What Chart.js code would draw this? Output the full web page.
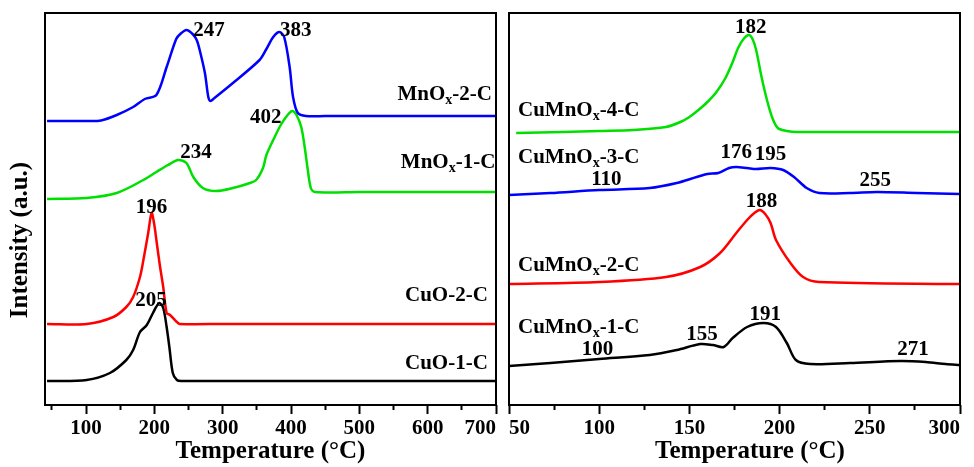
<!DOCTYPE html>
<html>
<head>
<meta charset="utf-8">
<script src="https://cdn.jsdelivr.net/npm/chart.js@4.4.1/dist/chart.umd.min.js"></script>
<style>
  html, body { margin: 0; padding: 0; background: #fff; overflow: hidden; }
  #left { position: absolute; left: 0; top: 0; }
  #right { position: absolute; left: 503px; top: 0; }
</style>
</head>
<body>
<canvas id="left" width="503" height="467"></canvas>
<canvas id="right" width="471" height="467"></canvas>
<script>
// left panel: single oxides
const mnox2T = [43, 100, 122, 145, 169, 186, 203, 218, 232, 238, 247, 256, 262, 266, 274, 279, 282, 288, 315, 354, 364, 374, 383, 390, 398, 403, 410, 422, 450, 700];
const mnox2I = [284, 284, 284.5, 290, 298, 306, 310, 338, 366, 371, 375, 371, 365, 356, 332, 308, 304, 307, 322, 345, 356, 368, 373, 368, 338, 308, 292, 289, 289, 289];

const mnox1T = [43, 101, 145, 184, 203, 220, 235, 247, 257, 271, 290, 315, 340, 349, 359, 364, 374, 385, 395, 402, 408, 415, 420, 424, 429, 435, 500, 700];
const mnox1I = [206, 207, 212, 225, 233, 240, 245, 242, 228, 217, 214, 217, 222, 225, 237, 250, 265, 280, 290, 294, 290, 278, 258, 238, 217, 213, 213, 213];

const cuo2T = [43, 101, 140, 159, 169, 179, 184, 191, 196, 200, 203, 208, 213, 218, 223, 233, 237, 300, 700];
const cuo2I = [81, 81, 88, 98, 108, 128, 145, 172, 192, 180, 165, 140, 118, 92, 90, 83, 81, 81, 81];

const cuo1T = [43, 101, 135, 159, 169, 179, 189, 198, 207, 213, 218, 222, 227, 233, 240, 260, 700];
const cuo1I = [24, 25, 32, 45, 55, 73, 80, 92, 102, 97, 78, 58, 32, 25, 24, 24, 24];

// right panel: mixed oxides
const cm4T = [54, 80, 100, 119, 137, 145, 150, 155, 160, 165, 170, 174, 177, 180, 183, 185, 187, 190, 193, 196, 199, 204, 210, 300];
const cm4I = [272, 273, 274, 275, 278, 283, 288, 295, 303, 313, 327, 343, 357, 366, 370, 366, 355, 328, 305, 287, 277, 274, 273, 273];

const cm3T = [50, 73, 100, 128, 143, 154, 160, 166, 172, 176, 182, 187, 195, 202, 208, 215, 222, 239, 254, 276, 300];
const cm3I = [210, 212, 215, 217, 222, 228, 231, 232, 237, 238, 237, 236, 237, 235, 228, 217, 212, 212, 213, 212, 211];

const cm2T = [50, 100, 137, 156, 167, 176, 182, 186, 189, 192, 195, 198, 206, 213, 222, 300];
const cm2I = [121, 123, 128, 138, 152, 172, 185, 192, 195, 191, 182, 165, 142, 128, 123, 121];

const cm1T = [50, 73, 100, 128, 143, 156, 163, 169, 174, 182, 191, 198, 204, 209, 217, 239, 267, 281, 292, 300];
const cm1I = [39, 42, 46, 50, 55, 61, 60, 58, 67, 78, 82, 78, 62, 45, 41, 42, 44, 43, 41, 40];

// axes
const leftTicks = [50, 100, 150, 200, 250, 300, 350, 400, 450, 500, 550, 600, 650, 700];
const leftTickLabels = ['', '100', '', '200', '', '300', '', '400', '', '500', '', '600', '', '700'];
const rightTicks = [50, 75, 100, 125, 150, 175, 200, 225, 250, 275, 300];
const rightTickLabels = ['50', '', '100', '', '150', '', '200', '', '250', '', '300'];

// text on the plot ("_" marks a subscript letter)
const leftNotes = [
  { text: '247', t: 280, v: 374 },
  { text: '383', t: 407, v: 374 },
  { text: '402', t: 363, v: 287 },
  { text: '234', t: 261, v: 252 },
  { text: '196', t: 196, v: 197 },
  { text: '205', t: 195, v: 104 },
  { text: 'MnO_x-2-C', t: 694, v: 310, align: 'right' },
  { text: 'MnO_x-1-C', t: 699, v: 242, align: 'right' },
  { text: 'CuO-2-C', t: 688, v: 109, align: 'right' },
  { text: 'CuO-1-C', t: 688, v: 41, align: 'right' }
];
const rightNotes = [
  { text: '182', t: 184, v: 377 },
  { text: 'CuMnO_x-4-C', t: 55, v: 294, align: 'left' },
  { text: 'CuMnO_x-3-C', t: 55, v: 247, align: 'left' },
  { text: '176', t: 176, v: 252 },
  { text: '195', t: 195, v: 250 },
  { text: '110', t: 104, v: 225 },
  { text: '255', t: 253, v: 224 },
  { text: '188', t: 190, v: 203 },
  { text: 'CuMnO_x-2-C', t: 55, v: 139, align: 'left' },
  { text: 'CuMnO_x-1-C', t: 55, v: 77, align: 'left' },
  { text: '155', t: 157, v: 70 },
  { text: '191', t: 192, v: 90 },
  { text: '100', t: 99, v: 55 },
  { text: '271', t: 274, v: 55 }
];

const FONT = "'Liberation Serif', 'Times New Roman', serif";
Chart.defaults.font.family = FONT;
Chart.defaults.font.weight = 'bold';
Chart.defaults.color = '#000';

function pts(t, v) {
  return t.map((x, i) => ({ x: x, y: v[i] }));
}

function line(t, v, color) {
  return {
    data: pts(t, v),
    borderColor: color,
    borderWidth: 2.5,
    pointRadius: 0,
    fill: false,
    tension: 0.3
  };
}

// box round the plot area
const frame = {
  id: 'frame',
  afterDraw(chart) {
    const { ctx, chartArea: a } = chart;
    ctx.save();
    ctx.strokeStyle = '#000';
    ctx.lineWidth = 2;
    ctx.strokeRect(a.left, a.top, a.right - a.left, a.bottom - a.top);
    ctx.restore();
  }
};

// peak values and sample names
const peakLabels = {
  id: 'peakLabels',
  afterDatasetsDraw(chart, args, opts) {
    const { ctx, scales: { x, y } } = chart;
    const big = 'bold 21px ' + FONT;
    const small = 'bold 14px ' + FONT;
    ctx.save();
    ctx.fillStyle = '#000';
    ctx.textBaseline = 'middle';
    ctx.textAlign = 'left';
    (opts.items || []).forEach((it) => {
      const bits = it.text.split('_');
      const parts = [[bits[0], big, 0]];
      if (bits.length > 1) {
        parts.push([bits[1][0], small, 5]);
        parts.push([bits[1].slice(1), big, 0]);
      }
      let w = 0;
      parts.forEach((p) => {
        ctx.font = p[1];
        p.push(ctx.measureText(p[0]).width);
        w += p[3];
      });
      let px = x.getPixelForValue(it.t);
      const py = y.getPixelForValue(it.v);
      if (it.align === 'right') px -= w;
      else if (it.align !== 'left') px -= w / 2;
      parts.forEach((p) => {
        ctx.font = p[1];
        ctx.fillText(p[0], px, py + p[2]);
        px += p[3];
      });
    });
    ctx.restore();
  }
};

// move axis titles off the centre of the plot area
const titleShift = {
  id: 'titleShift',
  afterLayout(chart, args, opts) {
    if (opts.x) chart.scales.x.right += opts.x;
    if (opts.y) chart.scales.y.bottom += opts.y;
  }
};

function xAxis(min, max, ticks, labels, minorStep) {
  return {
    type: 'linear',
    min: min,
    max: max,
    afterBuildTicks: (s) => { s.ticks = ticks.map((v) => ({ value: v })); },
    afterFit: (s) => { s.height = 62; },
    border: { display: false },
    grid: {
      display: true,
      drawOnChartArea: false,
      drawTicks: true,
      tickLength: 9,
      tickWidth: 2,
      tickColor: '#000',
      // minor ticks: only the top part of the tick is drawn
      tickBorderDash: (c) => (c.tick && c.tick.value % minorStep !== 0 ? [5, 30] : [])
    },
    ticks: {
      align: 'inner',
      autoSkip: false,
      maxRotation: 0,
      padding: 2,
      color: '#000',
      font: { size: 21, weight: 'bold' },
      callback: (v, i) => labels[i]
    },
    title: {
      display: true,
      text: 'Temperature (°C)',
      color: '#000',
      font: { size: 25, weight: 'bold' },
      padding: 0
    }
  };
}

new Chart(document.getElementById('left'), {
  type: 'line',
  data: {
    datasets: [
      line(mnox2T, mnox2I, '#0000ff'),
      line(mnox1T, mnox1I, '#00e000'),
      line(cuo2T, cuo2I, '#ff0000'),
      line(cuo1T, cuo1I, '#000000')
    ]
  },
  options: {
    responsive: false,
    animation: false,
    layout: { padding: { left: 0, right: 7, top: 13, bottom: 0 } },
    plugins: {
      legend: { display: false },
      tooltip: { enabled: false },
      peakLabels: { items: leftNotes },
      titleShift: { y: 62 }
    },
    scales: {
      x: xAxis(40, 700, leftTicks, leftTickLabels, 100),
      y: {
        min: 0,
        max: 392,
        afterFit: (s) => { s.width = 45; },
        grid: { display: false },
        border: { display: false },
        ticks: { display: false },
        title: {
          display: true,
          text: 'Intensity (a.u.)',
          color: '#000',
          font: { size: 25, weight: 'bold' },
          padding: { top: 6, bottom: 0 }
        }
      }
    }
  },
  plugins: [frame, peakLabels, titleShift]
});

new Chart(document.getElementById('right'), {
  type: 'line',
  data: {
    datasets: [
      line(cm4T, cm4I, '#00e000'),
      line(cm3T, cm3I, '#0000ff'),
      line(cm2T, cm2I, '#ff0000'),
      line(cm1T, cm1I, '#000000')
    ]
  },
  options: {
    responsive: false,
    animation: false,
    layout: { padding: { left: 6, right: 14, top: 13, bottom: 0 } },
    plugins: {
      legend: { display: false },
      tooltip: { enabled: false },
      peakLabels: { items: rightNotes },
      titleShift: { x: 31 }
    },
    scales: {
      x: xAxis(50, 300, rightTicks, rightTickLabels, 50),
      y: { min: 0, max: 392, display: false }
    }
  },
  plugins: [frame, peakLabels, titleShift]
});
</script>
</body>
</html>
